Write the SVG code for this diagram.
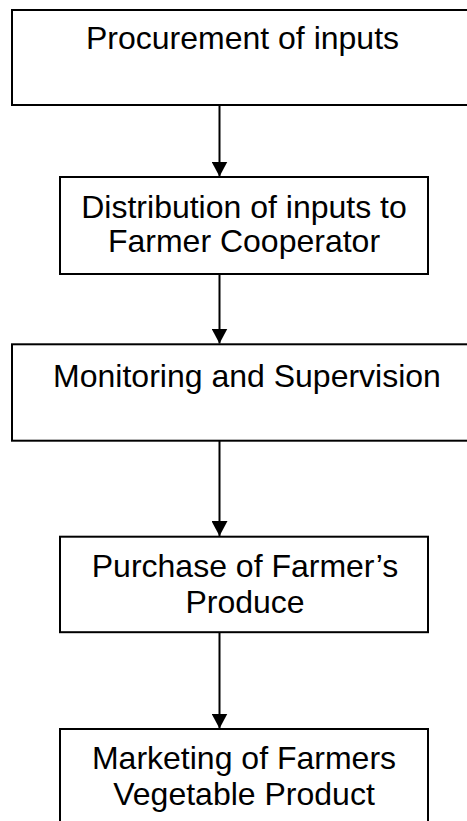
<svg xmlns="http://www.w3.org/2000/svg" width="467" height="821" viewBox="0 0 467 821">
<style>
.box{fill:#fff;stroke:#000;stroke-width:2}
.lbl{font-family:"Liberation Sans",Arial,sans-serif;font-size:32px;fill:#000;text-anchor:middle}
.conn{stroke:#000;stroke-width:2;fill:none;marker-end:url(#arr)}
</style>
<defs>
<marker id="arr" viewBox="0 0 15 16" refX="15" refY="8" markerWidth="15" markerHeight="16" markerUnits="userSpaceOnUse" orient="auto">
<path d="M0,0 L15,8 L0,16 z" fill="#000"/>
</marker>
</defs>
<rect width="467" height="821" fill="#fff"/>
<g id="n1">
<rect class="box" x="12" y="10" width="470" height="95"/>
<text class="lbl" x="242.5" y="49.3">Procurement of inputs</text>
</g>
<g id="n2">
<rect class="box" x="60" y="177" width="368" height="97"/>
<text class="lbl" x="244" y="217.8">Distribution of inputs to</text>
<text class="lbl" x="244" y="252.3">Farmer Cooperator</text>
</g>
<g id="n3">
<rect class="box" x="12" y="344.3" width="470" height="96.4"/>
<text class="lbl" x="247" y="386.7">Monitoring and Supervision</text>
</g>
<g id="n4">
<rect class="box" x="60" y="536.7" width="368" height="95.5"/>
<text class="lbl" x="245" y="576.7">Purchase of Farmer’s</text>
<text class="lbl" x="245" y="613.3">Produce</text>
</g>
<g id="n5">
<rect class="box" x="60" y="729" width="368" height="100"/>
<text class="lbl" x="244" y="769.3">Marketing of Farmers</text>
<text class="lbl" x="244" y="805">Vegetable Product</text>
</g>
<g id="connectors">
<line class="conn" x1="219.5" y1="105" x2="219.5" y2="176.5"/>
<line class="conn" x1="219.5" y1="274" x2="219.5" y2="343.5"/>
<line class="conn" x1="219.5" y1="440.7" x2="219.5" y2="536"/>
<line class="conn" x1="219.5" y1="632.2" x2="219.5" y2="728.5"/>
</g>
</svg>
